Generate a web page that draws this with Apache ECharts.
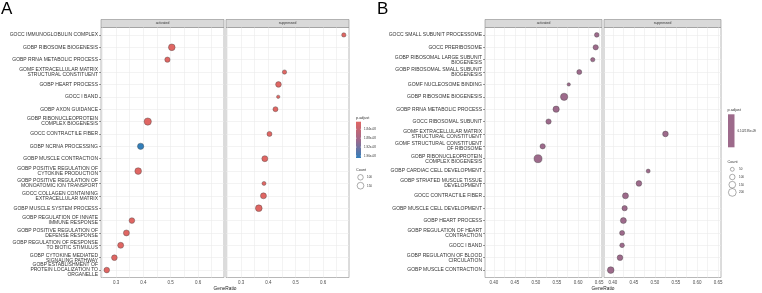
<!DOCTYPE html>
<html>
<head>
<meta charset="utf-8">
<script src="https://cdn.jsdelivr.net/npm/echarts@6/dist/echarts.min.js"></script>
<style>
  html, body { margin: 0; padding: 0; background: #fff; }
  #chart { width: 762px; height: 293px; }
</style>
</head>
<body>
<div id="chart"></div>
<script>
// ---- panel A ----
const termsA = [
  'GOCC IMMUNOGLOBULIN COMPLEX',
  'GOBP RIBOSOME BIOGENESIS',
  'GOBP RRNA METABOLIC PROCESS',
  'GOMF EXTRACELLULAR MATRIX STRUCTURAL CONSTITUENT',
  'GOBP HEART PROCESS',
  'GOCC I BAND',
  'GOBP AXON GUIDANCE',
  'GOBP RIBONUCLEOPROTEIN COMPLEX BIOGENESIS',
  'GOCC CONTRACTILE FIBER',
  'GOBP NCRNA PROCESSING',
  'GOBP MUSCLE CONTRACTION',
  'GOBP POSITIVE REGULATION OF CYTOKINE PRODUCTION',
  'GOBP POSITIVE REGULATION OF MONOATOMIC ION TRANSPORT',
  'GOCC COLLAGEN CONTAINING EXTRACELLULAR MATRIX',
  'GOBP MUSCLE SYSTEM PROCESS',
  'GOBP REGULATION OF INNATE IMMUNE RESPONSE',
  'GOBP POSITIVE REGULATION OF DEFENSE RESPONSE',
  'GOBP REGULATION OF RESPONSE TO BIOTIC STIMULUS',
  'GOBP CYTOKINE MEDIATED SIGNALING PATHWAY',
  'GOBP ESTABLISHMENT OF PROTEIN LOCALIZATION TO ORGANELLE'
]
const actRatioA = [null, 0.504, 0.488, null, null, null, null, 0.416, null, 0.390, null, 0.381, null, null, null, 0.358, 0.338, 0.317, 0.294, 0.266]
const actCountA = [null, 148, 93, null, null, null, null, 176, null, 131, null, 148, null, null, null, 106, 119, 119, 106, 106]
const actPadjA = [null, 1.806e-8, 1.806e-8, null, null, null, null, 1.806e-8, null, 1.969e-8, null, 1.806e-8, null, null, null, 1.806e-8, 1.806e-8, 1.806e-8, 1.806e-8, 1.806e-8]
const supRatioA = [0.676, null, null, 0.459, 0.437, 0.436, 0.426, null, 0.404, null, 0.387, null, 0.384, 0.382, 0.365, null, null, null, null, null]
const supCountA = [62, null, null, 62, 106, 37, 83, null, 83, null, 119, null, 53, 119, 148, null, null, null, null, null]
const supPadjA = [1.806e-8, null, null, 1.806e-8, 1.806e-8, 1.806e-8, 1.806e-8, null, 1.806e-8, null, 1.806e-8, null, 1.806e-8, 1.806e-8, 1.806e-8, null, null, null, null, null]
const xTicksA = [0.3, 0.4, 0.5, 0.6]
const xGridA = [0.25, 0.3, 0.35, 0.4, 0.45, 0.5, 0.55, 0.6, 0.65]
const padjTicksA = [1.84e-8, 1.88e-8, 1.92e-8, 1.96e-8]
const padjLabelsA = ['1.84e-08', '1.88e-08', '1.92e-08', '1.96e-08']
const countBreaksA = [100, 150]

// ---- panel B ----
const termsB = [
  'GOCC SMALL SUBUNIT PROCESSOME',
  'GOCC PRERIBOSOME',
  'GOBP RIBOSOMAL LARGE SUBUNIT BIOGENESIS',
  'GOBP RIBOSOMAL SMALL SUBUNIT BIOGENESIS',
  'GOMF NUCLEOSOME BINDING',
  'GOBP RIBOSOME BIOGENESIS',
  'GOBP RRNA METABOLIC PROCESS',
  'GOCC RIBOSOMAL SUBUNIT',
  'GOMF EXTRACELLULAR MATRIX STRUCTURAL CONSTITUENT',
  'GOMF STRUCTURAL CONSTITUENT OF RIBOSOME',
  'GOBP RIBONUCLEOPROTEIN COMPLEX BIOGENESIS',
  'GOBP CARDIAC CELL DEVELOPMENT',
  'GOBP STRIATED MUSCLE TISSUE DEVELOPMENT',
  'GOCC CONTRACTILE FIBER',
  'GOBP MUSCLE CELL DEVELOPMENT',
  'GOBP HEART PROCESS',
  'GOBP REGULATION OF HEART CONTRACTION',
  'GOCC I BAND',
  'GOBP REGULATION OF BLOOD CIRCULATION',
  'GOBP MUSCLE CONTRACTION'
]
const actRatioB = [0.6445, 0.642, 0.635, 0.603, 0.578, 0.567, 0.548, 0.530, null, 0.516, 0.505, null, null, null, null, null, null, null, null, null]
const actCountB = [72, 93, 62, 83, 37, 176, 131, 93, null, 93, 212, null, null, null, null, null, null, null, null, null]
const supRatioB = [null, null, null, null, null, null, null, null, 0.525, null, null, 0.484, 0.462, 0.430, 0.428, 0.425, 0.422, 0.422, 0.417, 0.395]
const supCountB = [null, null, null, null, null, null, null, null, 106, null, null, 53, 106, 119, 93, 119, 83, 72, 106, 148]
const padjB = 6.102195e-9
const xTicksB = [0.40, 0.45, 0.50, 0.55, 0.60, 0.65]
const xGridB = [0.4, 0.425, 0.45, 0.475, 0.5, 0.525, 0.55, 0.575, 0.6, 0.625, 0.65]
const countBreaksB = [50, 100, 150, 200]

const FONT = 'Liberation Sans, Arial, sans-serif'
const RED = '#e06663', BLUE = '#327eba', MAUVE = '#9d6a8b'
const padjRangeA = [1.806e-8, 1.969e-8]

// layout of the four facets (A act, A sup, B act, B sup)
const facets = [
  { left: 101, width: 123, xMin: 0.245, xMax: 0.695, strip: 'activated' },
  { left: 226, width: 123, xMin: 0.245, xMax: 0.695, strip: 'suppressed' },
  { left: 485, width: 117, xMin: 0.379, xMax: 0.657, strip: 'activated' },
  { left: 604, width: 117, xMin: 0.379, xMax: 0.657, strip: 'suppressed' }
]
const TOP = 27.5, HEIGHT = 250

function wrap(s, w) {
  const lines = []
  let cur = ''
  s.split(' ').forEach(word => {
    if (cur && (cur + ' ' + word).length > w) { lines.push(cur); cur = word }
    else cur = cur ? cur + ' ' + word : word
  })
  lines.push(cur)
  return lines.join('\n')
}

function sizeOf(count) {
  return 0.55 * Math.sqrt(count)
}

function points(ratios, counts, padj) {
  const out = []
  ratios.forEach((r, i) => {
    if (r === null) return
    out.push([r, i + 1, counts[i], Array.isArray(padj) ? padj[i] : padj])
  })
  return out
}

const idxA = termsA.map((t, i) => i + 1)
const idxB = termsB.map((t, i) => i + 1)
const labelsA = termsA.map(t => wrap(t, 28))
const labelsB = termsB.map(t => wrap(t, 29))

const gridLine = { show: true, lineStyle: { color: '#ebebeb', width: 0.6 } }

function makeX(i, ticks, gridVals, digits) {
  return {
    gridIndex: i, type: 'value', min: facets[i].xMin, max: facets[i].xMax,
    axisLine: { show: false },
    axisTick: { show: false, customValues: gridVals },
    axisLabel: {
      customValues: ticks, formatter: v => v.toFixed(digits),
      fontSize: 4.5, color: '#4d4d4d', fontFamily: FONT, margin: 2.5
    },
    splitLine: gridLine
  }
}

function makeY(i, idx, labels, showLabels) {
  return {
    gridIndex: i, type: 'value', min: 0.4, max: idx.length + 0.6, inverse: true,
    axisLine: { show: false },
    axisTick: { show: showLabels, length: 2, lineStyle: { color: '#333', width: 0.5 }, customValues: idx },
    axisLabel: {
      show: showLabels, customValues: idx, formatter: v => labels[v - 1],
      fontSize: 5, lineHeight: 5, color: '#333', fontFamily: FONT, margin: 3, align: 'right'
    },
    splitLine: gridLine
  }
}

function scatter(i, data) {
  return {
    type: 'scatter', xAxisIndex: i, yAxisIndex: i, data: data,
    symbolSize: d => sizeOf(d[2]),
    itemStyle: { borderColor: '#444', borderWidth: 0.4, opacity: 1 },
    emphasis: { disabled: true }
  }
}

// graphic bits: panel letters, strips, axis titles, legends
const graphic = []
graphic.push({ type: 'text', x: 1, y: 1, style: { text: 'A', fontSize: 17, fontFamily: FONT, fill: '#000' } })
graphic.push({ type: 'text', x: 377, y: 1, style: { text: 'B', fontSize: 17, fontFamily: FONT, fill: '#000' } })
facets.forEach(f => {
  graphic.push({ type: 'rect', shape: { x: f.left, y: 19.5, width: f.width, height: 8 },
    style: { fill: '#d9d9d9', stroke: '#8c8c8c', lineWidth: 0.6 } })
  graphic.push({ type: 'text', x: f.left + f.width / 2, y: 23.5,
    style: { text: f.strip, fontSize: 3.4, fontFamily: FONT, fill: '#333', align: 'center', verticalAlign: 'middle' } })
})
graphic.push({ type: 'text', x: 225, y: 288.5, style: { text: 'GeneRatio', fontSize: 4.8, fontFamily: FONT, fill: '#222', align: 'center', verticalAlign: 'middle' } })
graphic.push({ type: 'text', x: 603, y: 288.5, style: { text: 'GeneRatio', fontSize: 4.8, fontFamily: FONT, fill: '#222', align: 'center', verticalAlign: 'middle' } })

function legendText(x, y, text, size) {
  return { type: 'text', x: x, y: y, style: { text: text, fontSize: size, fontFamily: FONT, fill: '#333', verticalAlign: 'middle' } }
}

// legend A: colourbar
const barA = { x: 356, y: 121.7, w: 5, h: 36.3 }
graphic.push(legendText(356, 117.5, 'p.adjust', 3.8))
graphic.push({ type: 'rect', shape: { x: barA.x, y: barA.y, width: barA.w, height: barA.h },
  style: { fill: new echarts.graphic.LinearGradient(0, 0, 0, 1, [
    { offset: 0, color: RED }, { offset: 0.5, color: '#a0698c' }, { offset: 1, color: BLUE }]) } })
padjTicksA.forEach((v, k) => {
  const y = barA.y + (v - padjRangeA[0]) / (padjRangeA[1] - padjRangeA[0]) * barA.h
  graphic.push({ type: 'line', shape: { x1: barA.x, y1: y, x2: barA.x + 1, y2: y }, style: { stroke: '#fff', lineWidth: 0.4 } })
  graphic.push({ type: 'line', shape: { x1: barA.x + barA.w - 1, y1: y, x2: barA.x + barA.w, y2: y }, style: { stroke: '#fff', lineWidth: 0.4 } })
  graphic.push(legendText(barA.x + barA.w + 3, y, padjLabelsA[k], 3))
})
graphic.push(legendText(356, 170, 'Count', 3.8))
countBreaksA.forEach((c, k) => {
  const cy = 177.3 + k * 8.4
  graphic.push({ type: 'circle', shape: { cx: 360.5, cy: cy, r: sizeOf(c) / 2 }, style: { fill: 'none', stroke: '#333', lineWidth: 0.4 } })
  graphic.push(legendText(367, cy, String(c), 3))
})

// legend B
const barB = { x: 728, y: 114.3, w: 6.5, h: 33 }
graphic.push(legendText(727.5, 110, 'p.adjust', 3.8))
graphic.push({ type: 'rect', shape: { x: barB.x, y: barB.y, width: barB.w, height: barB.h }, style: { fill: MAUVE } })
graphic.push(legendText(barB.x + barB.w + 3, barB.y + barB.h / 2, '6.102195e-09', 3))
graphic.push(legendText(727.5, 161.7, 'Count', 3.8))
countBreaksB.forEach((c, k) => {
  const cy = 169.3 + k * 7.7
  graphic.push({ type: 'circle', shape: { cx: 732.3, cy: cy, r: sizeOf(c) / 2 }, style: { fill: 'none', stroke: '#333', lineWidth: 0.4 } })
  graphic.push(legendText(739, cy, String(c), 3))
})

const option = {
  animation: false,
  backgroundColor: '#fff',
  textStyle: { fontFamily: FONT },
  grid: facets.map(f => ({
    left: f.left, top: TOP, width: f.width, height: HEIGHT,
    show: true, borderColor: '#a6a6a6', borderWidth: 0.8, backgroundColor: '#fff'
  })),
  xAxis: [
    makeX(0, xTicksA, xGridA, 1),
    makeX(1, xTicksA, xGridA, 1),
    makeX(2, xTicksB, xGridB, 2),
    makeX(3, xTicksB, xGridB, 2)
  ],
  yAxis: [
    makeY(0, idxA, labelsA, true),
    makeY(1, idxA, labelsA, false),
    makeY(2, idxB, labelsB, true),
    makeY(3, idxB, labelsB, false)
  ],
  visualMap: [
    { type: 'continuous', show: false, seriesIndex: [0, 1], dimension: 3,
      min: padjRangeA[0], max: padjRangeA[1], inRange: { color: [RED, BLUE] } },
    { type: 'continuous', show: false, seriesIndex: [2, 3], dimension: 3,
      min: 0, max: 1e-8, inRange: { color: [MAUVE, MAUVE] } }
  ],
  series: [
    scatter(0, points(actRatioA, actCountA, actPadjA)),
    scatter(1, points(supRatioA, supCountA, supPadjA)),
    scatter(2, points(actRatioB, actCountB, padjB)),
    scatter(3, points(supRatioB, supCountB, padjB))
  ],
  graphic: graphic
}

const chart = echarts.init(document.getElementById('chart'), null, { renderer: 'canvas' })
chart.setOption(option)
</script>
</body>
</html>
